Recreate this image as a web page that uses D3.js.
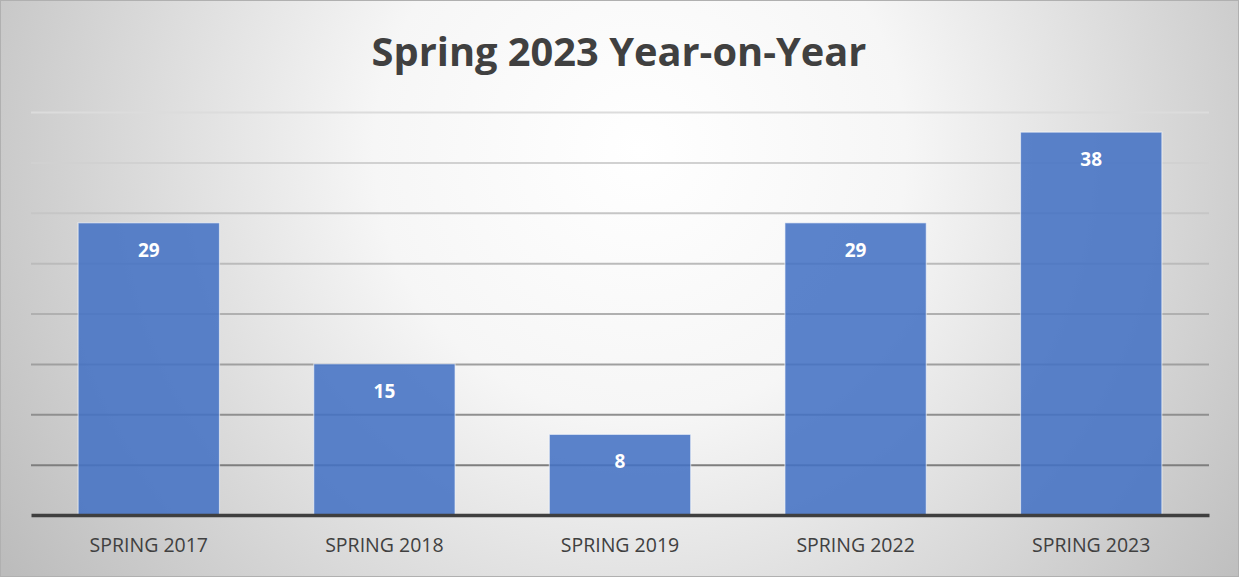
<!DOCTYPE html>
<html>
<head>
<meta charset="utf-8">
<script src="https://cdn.jsdelivr.net/npm/d3@7"></script>
<style>
  body { margin: 0; background: #fff; }
  svg { display: block; }
</style>
</head>
<body>
<div id="chart"></div>
<script>
// chart data
var categories = ["SPRING 2017", "SPRING 2018", "SPRING 2019", "SPRING 2022", "SPRING 2023"];
var values = [29, 15, 8, 29, 38];
var yTicks = [0, 5, 10, 15, 20, 25, 30, 35, 40];
var title = "Spring 2023 Year-on-Year";

var outerWidth = 1239,
    outerHeight = 577,
    plot = {left: 31, right: 1209, top: 112, bottom: 515};

var svg = d3.select("#chart")
    .append("svg")
    .attr("width", outerWidth)
    .attr("height", outerHeight);

var defs = svg.append("defs");

// radial background, light in the middle and gray at the corners
var bg = defs.append("radialGradient")
    .attr("id", "bg")
    .attr("gradientUnits", "userSpaceOnUse")
    .attr("cx", 640).attr("cy", 150).attr("r", 760);
bg.append("stop").attr("offset", "0").attr("stop-color", "#ffffff");
bg.append("stop").attr("offset", "0.35").attr("stop-color", "#f6f6f6");
bg.append("stop").attr("offset", "1").attr("stop-color", "#bcbcbc");

svg.append("rect")
    .attr("width", outerWidth)
    .attr("height", outerHeight)
    .attr("fill", "url(#bg)")
    .attr("stroke", "#b0b0b0")
    .attr("stroke-width", 2);

var xScale = d3.scaleBand()
    .domain(categories)
    .range([plot.left, plot.right])
    .paddingInner(0.4)
    .paddingOuter(0.2);

var yScale = d3.scaleLinear()
    .domain([0, 40])
    .range([plot.bottom, plot.top]);

// gridlines get darker towards the bottom
var gridColor = d3.scaleLinear()
    .domain([5, 20, 40])
    .range(["#7e7e7e", "#b0b0b0", "#dcdcdc"]);

// horizontal gridlines
svg.append("g")
    .attr("class", "grid")
    .attr("transform", "translate(" + plot.left + ",0)")
    .call(d3.axisRight(yScale)
        .tickValues(yTicks.slice(1))
        .tickSize(plot.right - plot.left)
        .tickFormat(""))
    .call(g => g.select(".domain").remove())
    .selectAll("line")
    .attr("stroke", d => gridColor(d))
    .attr("stroke-width", 2);

// bars
svg.append("g")
    .selectAll("rect")
    .data(values)
    .enter()
    .append("rect")
    .attr("x", (d, i) => xScale(categories[i]))
    .attr("y", d => yScale(d))
    .attr("width", xScale.bandwidth())
    .attr("height", d => yScale(0) - yScale(d))
    .attr("fill", "#4472c4")
    .attr("fill-opacity", 0.88)
    .attr("stroke", "#ffffff")
    .attr("stroke-opacity", 0.55)
    .attr("stroke-width", 1.2);

// data labels inside the bars
svg.append("g")
    .selectAll("text")
    .data(values)
    .enter()
    .append("text")
    .attr("x", (d, i) => xScale(categories[i]) + xScale.bandwidth() / 2)
    .attr("y", d => yScale(d) + 34)
    .attr("text-anchor", "middle")
    .attr("font-family", "Open Sans, sans-serif")
    .attr("font-weight", "bold")
    .attr("font-size", 19)
    .attr("fill", "#ffffff")
    .text(d => d);

// x axis with category labels
svg.append("g")
    .attr("transform", "translate(0," + plot.bottom + ")")
    .call(d3.axisBottom(xScale).tickSize(0).tickPadding(23))
    .call(g => g.select(".domain")
        .attr("stroke", "#3f3f3f")
        .attr("stroke-width", 3.5))
    .selectAll("text")
    .attr("font-family", "Open Sans, sans-serif")
    .attr("font-size", 19.5)
    .attr("fill", "#404040");

// title, scaled to the width it has in the original
var titleText = svg.append("text")
    .attr("x", 619)
    .attr("y", 66)
    .attr("text-anchor", "middle")
    .attr("font-family", "Open Sans, sans-serif")
    .attr("font-weight", "bold")
    .attr("font-size", 40)
    .attr("fill", "#404040")
    .text(title);
var tw = titleText.node().getComputedTextLength();
titleText.attr("font-size", 40 * 495 / tw);
</script>
</body>
</html>
